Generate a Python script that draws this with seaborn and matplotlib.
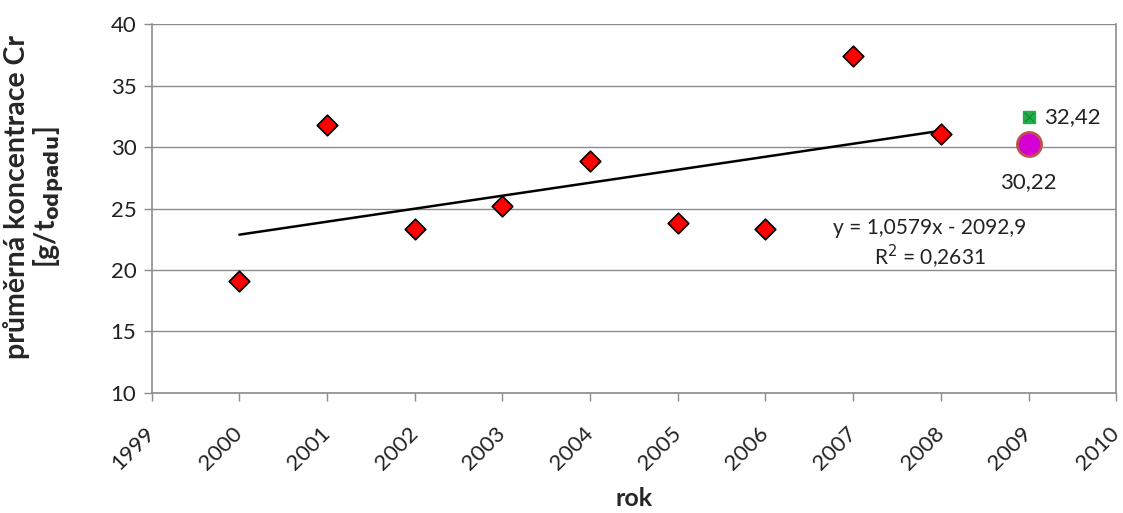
"""
Průměrná koncentrace Cr v odpadu, 2000-2009, s lineárním trendem.
"""
import matplotlib
matplotlib.use("Agg")

import matplotlib.pyplot as plt
import matplotlib.transforms as mtransforms
import seaborn as sns
import pandas as pd

# ── Data ──────────────────────────────────────────────────────────────────────
YEARS = [2000, 2001, 2002, 2003, 2004, 2005, 2006, 2007, 2008]
CR_MEAN = [19.1, 31.8, 23.3, 25.2, 28.9, 23.8, 23.3, 37.4, 31.1]

PRED_YEAR = [2009]
PRED_GREEN = [32.42]
PRED_PINK = [30.22]

EQ_TEXT = "y = 1,0579x - 2092,9"
R2_TEXT = "R$^2$ = 0,2631"

X_TICKS = list(range(1999, 2011))
Y_TICKS = [10, 15, 20, 25, 30, 35, 40]

# ── Style ─────────────────────────────────────────────────────────────────────
sns.set_theme(style="white")
plt.rcParams["font.family"] = ["Lato", "DejaVu Sans"]

df = pd.DataFrame({"rok": YEARS, "cr": CR_MEAN})

fig = plt.figure(figsize=(11.23, 5.13), dpi=100)
ax = fig.add_axes([0.135, 0.234, 0.859, 0.719])

for y in Y_TICKS:
    ax.axhline(y, color="#8c8c8c", lw=1, zorder=0)

sns.regplot(data=df, x="rok", y="cr", scatter=False, ci=None, truncate=True,
            line_kws={"color": "black", "lw": 1.8}, ax=ax)
sns.scatterplot(data=df, x="rok", y="cr", marker="D", s=110,
                color="#ff0000", edgecolor="black", linewidth=1.2,
                zorder=4, ax=ax)

ax.scatter(PRED_YEAR, PRED_GREEN, marker="s", s=85, color="#22b04c",
           edgecolor="#22b04c", zorder=4)
ax.scatter(PRED_YEAR, PRED_GREEN, marker="x", s=45, color="#138a30",
           lw=1.0, zorder=5)
ax.scatter(PRED_YEAR, PRED_PINK, marker="o", s=300, color="#d400d4",
           edgecolor="#c0504d", linewidth=2, zorder=4)

ax.annotate(f"{PRED_GREEN[0]:.2f}".replace(".", ","),
            (PRED_YEAR[0], PRED_GREEN[0]), xytext=(11, 0),
            textcoords="offset points", va="center", ha="left",
            fontsize=16, color="#222")
ax.annotate(f"{PRED_PINK[0]:.2f}".replace(".", ","),
            (PRED_YEAR[0], PRED_PINK[0]), xytext=(0, -27),
            textcoords="offset points", va="center", ha="center",
            fontsize=16, color="#222")

ax.text(2007.87, 23.4, EQ_TEXT, ha="center", va="center", fontsize=15,
        color="#222")
ax.text(2007.87, 21.05, R2_TEXT, ha="center", va="center", fontsize=15,
        color="#222")

ax.set_xlim(1999, 2010)
ax.set_ylim(10, 40)
ax.set_xticks(X_TICKS)
ax.set_yticks(Y_TICKS)
ax.set_xticklabels([str(x) for x in X_TICKS], rotation=45, ha="right",
                   rotation_mode="anchor", fontsize=16, color="#222")
ax.set_yticklabels([str(y) for y in Y_TICKS], fontsize=16, color="#222")
ax.tick_params(axis="y", direction="out", length=6, width=1,
               color="#8c8c8c", pad=5, left=True)
ax.tick_params(axis="x", direction="out", length=6, width=1,
               color="#8c8c8c", pad=16, bottom=True)

# nudge the rotated year labels a little to the left
shift = mtransforms.ScaledTranslation(-7 / 100, 0, fig.dpi_scale_trans)
for lbl in ax.get_xticklabels():
    lbl.set_transform(lbl.get_transform() + shift)

for side in ["left", "bottom", "right"]:
    ax.spines[side].set_color("#8c8c8c")
    ax.spines[side].set_linewidth(1.2)
ax.spines["top"].set_visible(False)

ax.set_xlabel("rok", fontsize=18, fontweight="bold", labelpad=9)
ax.set_ylabel("průměrná koncentrace Cr\n[g/t$_{\\mathbf{odpadu}}$]",
              fontsize=20.5, fontweight="bold", linespacing=1.05)
ax.yaxis.set_label_coords(-0.089, 0.53)

fig.savefig("out.png", dpi=100)
